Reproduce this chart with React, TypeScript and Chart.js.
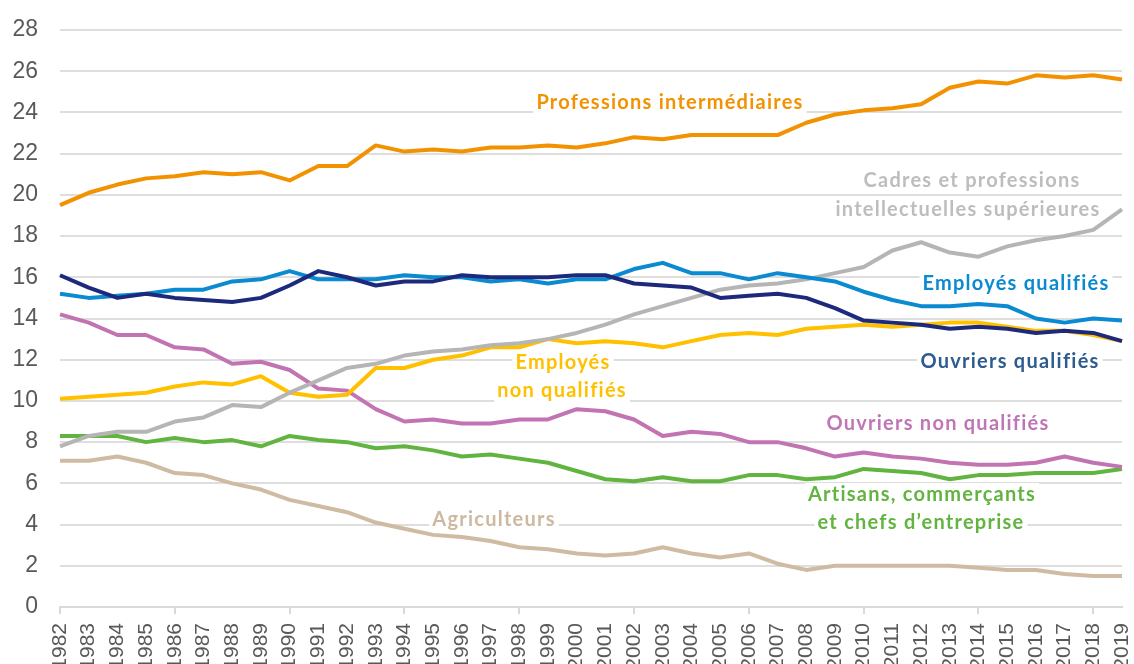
import React, { useEffect, useRef } from "react";
import { Chart, registerables } from "chart.js";

Chart.register(...registerables);

const years: string[] = [];
for (let y = 1982; y <= 2019; y++) years.push(String(y));

const professionsIntermediaires = [19.5, 20.1, 20.5, 20.8, 20.9, 21.1, 21.0, 21.1, 20.7, 21.4, 21.4, 22.4, 22.1, 22.2, 22.1, 22.3, 22.3, 22.4, 22.3, 22.5, 22.8, 22.7, 22.9, 22.9, 22.9, 22.9, 23.5, 23.9, 24.1, 24.2, 24.4, 25.2, 25.5, 25.4, 25.8, 25.7, 25.8, 25.6];
const cadres = [7.8, 8.3, 8.5, 8.5, 9.0, 9.2, 9.8, 9.7, 10.4, 11.0, 11.6, 11.8, 12.2, 12.4, 12.5, 12.7, 12.8, 13.0, 13.3, 13.7, 14.2, 14.6, 15.0, 15.4, 15.6, 15.7, 15.9, 16.2, 16.5, 17.3, 17.7, 17.2, 17.0, 17.5, 17.8, 18.0, 18.3, 19.3];
const employesQualifies = [15.2, 15.0, 15.1, 15.2, 15.4, 15.4, 15.8, 15.9, 16.3, 15.9, 15.9, 15.9, 16.1, 16.0, 16.0, 15.8, 15.9, 15.7, 15.9, 15.9, 16.4, 16.7, 16.2, 16.2, 15.9, 16.2, 16.0, 15.8, 15.3, 14.9, 14.6, 14.6, 14.7, 14.6, 14.0, 13.8, 14.0, 13.9];
const ouvriersQualifies = [16.1, 15.5, 15.0, 15.2, 15.0, 14.9, 14.8, 15.0, 15.6, 16.3, 16.0, 15.6, 15.8, 15.8, 16.1, 16.0, 16.0, 16.0, 16.1, 16.1, 15.7, 15.6, 15.5, 15.0, 15.1, 15.2, 15.0, 14.5, 13.9, 13.8, 13.7, 13.5, 13.6, 13.5, 13.3, 13.4, 13.3, 12.9];
const employesNonQualifies = [10.1, 10.2, 10.3, 10.4, 10.7, 10.9, 10.8, 11.2, 10.4, 10.2, 10.3, 11.6, 11.6, 12.0, 12.2, 12.6, 12.6, 13.0, 12.8, 12.9, 12.8, 12.6, 12.9, 13.2, 13.3, 13.2, 13.5, 13.6, 13.7, 13.6, 13.7, 13.8, 13.8, 13.6, 13.4, 13.4, 13.2, 12.9];
const ouvriersNonQualifies = [14.2, 13.8, 13.2, 13.2, 12.6, 12.5, 11.8, 11.9, 11.5, 10.6, 10.5, 9.6, 9.0, 9.1, 8.9, 8.9, 9.1, 9.1, 9.6, 9.5, 9.1, 8.3, 8.5, 8.4, 8.0, 8.0, 7.7, 7.3, 7.5, 7.3, 7.2, 7.0, 6.9, 6.9, 7.0, 7.3, 7.0, 6.8];
const artisans = [8.3, 8.3, 8.3, 8.0, 8.2, 8.0, 8.1, 7.8, 8.3, 8.1, 8.0, 7.7, 7.8, 7.6, 7.3, 7.4, 7.2, 7.0, 6.6, 6.2, 6.1, 6.3, 6.1, 6.1, 6.4, 6.4, 6.2, 6.3, 6.7, 6.6, 6.5, 6.2, 6.4, 6.4, 6.5, 6.5, 6.5, 6.7];
const agriculteurs = [7.1, 7.1, 7.3, 7.0, 6.5, 6.4, 6.0, 5.7, 5.2, 4.9, 4.6, 4.1, 3.8, 3.5, 3.4, 3.2, 2.9, 2.8, 2.6, 2.5, 2.6, 2.9, 2.6, 2.4, 2.6, 2.1, 1.8, 2.0, 2.0, 2.0, 2.0, 2.0, 1.9, 1.8, 1.8, 1.6, 1.5, 1.5];

const yTickValues = [0, 2, 4, 6, 8, 10, 12, 14, 16, 18, 20, 22, 24, 26, 28];

// Text annotations (pixel centers on the canvas)
const annotations = [
  { text: "Professions intermédiaires", color: "#F39200", x: 670, y: 103 },
  { text: "Cadres et professions", color: "#BDBDBD", x: 972, y: 181 },
  { text: "intellectuelles supérieures", color: "#BDBDBD", x: 968, y: 210 },
  { text: "Employés qualifiés", color: "#0A8AD0", x: 1016, y: 284 },
  { text: "Employés", color: "#FFC000", x: 563, y: 363 },
  { text: "non qualifiés", color: "#FFC000", x: 562, y: 391 },
  { text: "Ouvriers qualifiés", color: "#2E5C8F", x: 1010, y: 362 },
  { text: "Ouvriers non qualifiés", color: "#C075B5", x: 938, y: 424 },
  { text: "Artisans, commerçants", color: "#62B440", x: 922, y: 495 },
  { text: "et chefs d\u2019entreprise", color: "#62B440", x: 921, y: 523 },
  { text: "Agriculteurs", color: "#CDB9A0", x: 494, y: 520 },
];

const labelPlugin = {
  id: "seriesLabels",
  beforeDatasetsDraw(chart: any) {
    const ctx = chart.ctx as any;
    ctx.save();
    ctx.font = "bold 20px Lato";
    try {
      ctx.letterSpacing = "1.25px";
    } catch (e) {}
    ctx.textAlign = "center";
    ctx.textBaseline = "middle";
    for (const a of annotations) {
      const w = ctx.measureText(a.text).width;
      ctx.fillStyle = "#FFFFFF";
      ctx.fillRect(a.x - w / 2 - 3, a.y - 12, w + 6, 24);
    }
    for (const a of annotations) {
      ctx.fillStyle = a.color;
      ctx.fillText(a.text, a.x, a.y);
    }
    ctx.restore();
  },
};

export default function App() {
  const ref = useRef<HTMLCanvasElement | null>(null);
  useEffect(() => {
    if (!ref.current) return;
    const mk = (label: string, data: number[], color: string) => ({
      label,
      data,
      borderColor: color,
      backgroundColor: color,
      borderWidth: 4,
      pointRadius: 0,
      tension: 0,
      fill: false,
      borderJoinStyle: "round" as const,
    });
    const chart = new Chart(ref.current, {
      type: "line",
      data: {
        labels: years,
        datasets: [
          mk("Ouvriers qualifiés", ouvriersQualifies, "#1D2A7C"),
          mk("Employés qualifiés", employesQualifies, "#0A8AD0"),
          mk("Professions intermédiaires", professionsIntermediaires, "#F39200"),
          mk("Cadres et professions intellectuelles supérieures", cadres, "#B5B5B5"),
          mk("Employés non qualifiés", employesNonQualifies, "#FFC000"),
          mk("Ouvriers non qualifiés", ouvriersNonQualifies, "#C274B2"),
          mk("Artisans, commerçants et chefs d'entreprise", artisans, "#62B440"),
          mk("Agriculteurs", agriculteurs, "#CFBBA2"),
        ],
      },
      options: {
        responsive: false,
        animation: false,
        events: [],
        layout: { padding: { top: 30, right: 12, left: 0, bottom: 0 } },
        plugins: { legend: { display: false }, tooltip: { enabled: false } },
        scales: {
          x: {
            type: "category",
            offset: false,
            afterFit: (s: any) => {
              s.height = 93;
              s.paddingLeft = 0;
              s.paddingRight = 0;
            },
            grid: {
              display: true,
              drawOnChartArea: false,
              drawTicks: true,
              tickLength: 7,
              lineWidth: 2,
              color: (c: any) => (c.index % 4 === 0 ? "#D9D9D9" : "rgba(0,0,0,0)"),
            },
            border: { display: true, color: "#D9D9D9", width: 2 },
            ticks: {
              autoSkip: false,
              maxRotation: 90,
              minRotation: 90,
              padding: 9,
              color: "#595959",
              font: { family: "'Liberation Sans', Arial", size: 21 },
            },
          },
          y: {
            min: 0,
            max: 28,
            afterFit: (s: any) => {
              s.width = 60;
              s.paddingTop = 0;
              s.paddingBottom = 0;
            },
            afterBuildTicks: (s: any) => {
              s.ticks = yTickValues.map((v) => ({ value: v }));
            },
            grid: {
              color: "#DEDEDE",
              lineWidth: 2,
              drawTicks: false,
            },
            border: { display: false },
            ticks: {
              padding: 22,
              color: "#595959",
              font: { family: "'Liberation Sans', Arial", size: 23 },
            },
          },
        },
      },
      plugins: [labelPlugin],
    });
    return () => chart.destroy();
  }, []);
  return (
    <div style={{ position: "absolute", left: 0, top: 0, width: 1134, height: 700, background: "#fff" }}>
      <canvas ref={ref} width={1134} height={700} style={{ display: "block" }} />
    </div>
  );
}
